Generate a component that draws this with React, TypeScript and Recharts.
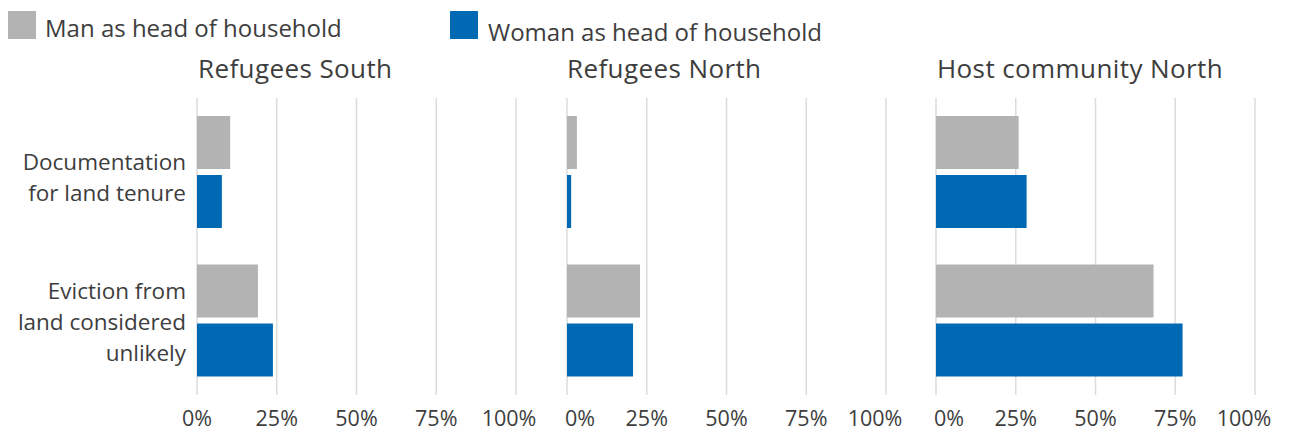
import { BarChart, Bar, XAxis, YAxis, CartesianGrid } from "recharts";

// values, in percent
const categories = ["Documentation\nfor land tenure", "Eviction from\nland considered\nunlikely"];
const panelTitles = ["Refugees South", "Refugees North", "Host community North"];
const manHead = [
  [10.4, 19.1],
  [3.1, 22.9],
  [25.9, 68.2],
];
const womanHead = [
  [7.8, 23.8],
  [1.3, 20.7],
  [28.4, 77.3],
];
const xTicks = [0, 25, 50, 75, 100];

const FONT = "'Open Sans', sans-serif";
const TEXT = "#3d3d3d";
const GREY = "#b3b3b3";
const BLUE = "#0069b4";

// edge tick labels are nudged inwards so they stay inside their panel
const tickNudge = [
  [0, 0, 0, 0, -7],
  [13, 0, 0, 0, -11],
  [13, 0, 0, 0, -11],
];

function CategoryTick({ x, y, payload }: any) {
  const lines = String(payload.value).split("\n");
  const shift = lines.length === 2 ? 4 : 0;
  return (
    <text x={x} y={y} textAnchor="end" fill={TEXT} fontSize={22.5} fontFamily={FONT} dominantBaseline="central">
      {lines.map((l, i) => (
        <tspan key={i} x={x} y={y + (i - (lines.length - 1) / 2) * 31 + shift}>
          {l}
        </tspan>
      ))}
    </text>
  );
}

function PercentTick({ x, y, payload, index, panel }: any) {
  const dx = tickNudge[panel][index] ?? 0;
  return (
    <text x={x + dx} y={y} dy="0.71em" textAnchor="middle" fill={TEXT} fontSize={21.5} fontFamily={FONT}>
      {`${payload.value}%`}
    </text>
  );
}

const panelLeft = [0, 537, 906];
const titleLeft = [198, 567, 937];

function Panel({ idx }: { idx: number }) {
  const data = categories.map((c, i) => ({
    category: c,
    man: manHead[idx][i],
    woman: womanHead[idx][i],
  }));
  const first = idx === 0;
  return (
    <div style={{ position: "absolute", left: panelLeft[idx], top: 90 }}>
      <BarChart
        width={first ? 546 : 379}
        height={342}
        data={data}
        layout="vertical"
        margin={{ top: 8, right: 30, left: first ? 0 : 30, bottom: 0 }}
        barSize={53}
        barGap={6}
      >
        <CartesianGrid horizontal={false} stroke="#dcdcdc" strokeWidth={1.5} />
        <XAxis
          type="number"
          domain={[0, 100]}
          ticks={xTicks}
          interval={0}
          axisLine={false}
          tickLine={false}
          tickMargin={10}
          height={37}
          tick={<PercentTick panel={idx} />}
        />
        <YAxis
          type="category"
          dataKey="category"
          hide={!first}
          width={first ? 197 : 0}
          axisLine={false}
          tickLine={false}
          tickMargin={5}
          tick={<CategoryTick />}
        />
        <Bar dataKey="man" fill={GREY} isAnimationActive={false} />
        <Bar dataKey="woman" fill={BLUE} isAnimationActive={false} />
      </BarChart>
    </div>
  );
}

export default function App() {
  return (
    <div
      style={{
        position: "absolute",
        left: 0,
        top: 0,
        width: 1290,
        height: 432,
        background: "#fff",
        fontFamily: FONT,
        color: TEXT,
        overflow: "hidden",
      }}
    >
      {/* legend */}
      <div style={{ position: "absolute", left: 8, top: 11, width: 28, height: 28, background: GREY }} />
      <div style={{ position: "absolute", left: 45, top: 15.5, fontSize: 24, lineHeight: "24px", whiteSpace: "nowrap" }}>
        Man as head of household
      </div>
      <div style={{ position: "absolute", left: 450, top: 11, width: 28, height: 28, background: BLUE }} />
      <div style={{ position: "absolute", left: 488, top: 19.5, fontSize: 24, lineHeight: "24px", whiteSpace: "nowrap" }}>
        Woman as head of household
      </div>

      {panelTitles.map((t, i) => (
        <div
          key={t}
          style={{
            position: "absolute",
            left: titleLeft[i],
            top: 53.5,
            fontSize: 26,
            letterSpacing: 0.4,
            lineHeight: "28px",
            whiteSpace: "nowrap",
          }}
        >
          {t}
        </div>
      ))}

      {panelTitles.map((t, i) => (
        <Panel key={t} idx={i} />
      ))}
    </div>
  );
}
